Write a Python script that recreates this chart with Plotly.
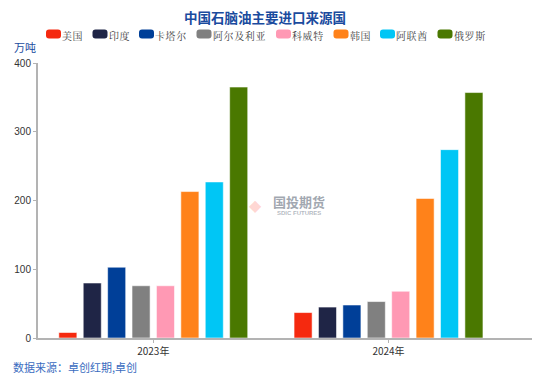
import plotly.graph_objects as go

years = ["2023年", "2024年"]
countries = ["美国", "印度", "卡塔尔", "阿尔及利亚", "科威特", "韩国", "阿联酋", "俄罗斯"]
colors = ["#f5290f", "#1f2546", "#003f98", "#808080", "#ff99b4", "#ff821a", "#00c6f5", "#4a7800"]

v_usa = [8, 37]
v_india = [80, 45]
v_qatar = [103, 48]
v_algeria = [76, 53]
v_kuwait = [76, 68]
v_korea = [213, 203]
v_uae = [227, 274]
v_russia = [365, 357]
values = [v_usa, v_india, v_qatar, v_algeria, v_kuwait, v_korea, v_uae, v_russia]

OFF = 8  # default page body margin
W, H = 550 - OFF, 382 - OFF
ML, MR, MT, MB = 38 - OFF, 18, 63 - OFF, 44
PW, PH = W - ML - MR, H - MT - MB

def px2x(px):
    return (px - OFF - ML) / PW

def py2y(py):
    return (H - MB - (py - OFF)) / PH

fig = go.Figure()
for name, col, vals in zip(countries, colors, values):
    fig.add_trace(go.Bar(
        x=years, y=vals, name=name, showlegend=False,
        marker=dict(color=col, line=dict(color="rgba(255,255,255,0.55)", width=1)),
    ))

fig.update_layout(
    width=W, height=H,
    margin=dict(l=ML, r=MR, t=MT, b=MB, autoexpand=False),
    paper_bgcolor="white", plot_bgcolor="white",
    barmode="group", bargap=0.17, bargroupgap=0.26,
    font=dict(family="Liberation Sans, Arial, sans-serif", size=10, color="#333333"),
    showlegend=False,
)

fig.add_annotation(text="<b>中国石脑油主要进口来源国</b>", xref="paper", yref="paper",
                   x=px2x(265), y=py2y(17.5), xanchor="center", yanchor="middle",
                   showarrow=False, borderpad=0,
                   font=dict(family="Noto Sans CJK SC", size=13.5, color="#1a4b9e"))

fig.update_xaxes(type="category", range=[-0.49, 1.61], showline=True, linecolor="#b3b3b3",
                 linewidth=2, ticks="outside", ticklen=3, tickcolor="#b3b3b3",
                 tickfont=dict(family="Noto Sans CJK SC", size=10, color="#333333"),
                 showgrid=False, zeroline=False)
fig.update_yaxes(range=[0, 400], dtick=100, showline=True, linecolor="#b3b3b3", linewidth=2,
                 ticks="outside", ticklen=3, tickcolor="#b3b3b3", showgrid=False,
                 zeroline=False, tickfont=dict(size=10, color="#333333"))

# custom legend with rounded swatches
leg_y = 34
sw_w, sw_h, r = 15, 9, 3
x = 46.0
for name, col in zip(countries, colors):
    x0, x1 = x, x + sw_w
    y0, y1 = leg_y - sw_h / 2, leg_y + sw_h / 2
    pts = [
        f"M {px2x(x0 + r)} {py2y(y0)}",
        f"L {px2x(x1 - r)} {py2y(y0)}",
        f"Q {px2x(x1)} {py2y(y0)} {px2x(x1)} {py2y(y0 + r)}",
        f"L {px2x(x1)} {py2y(y1 - r)}",
        f"Q {px2x(x1)} {py2y(y1)} {px2x(x1 - r)} {py2y(y1)}",
        f"L {px2x(x0 + r)} {py2y(y1)}",
        f"Q {px2x(x0)} {py2y(y1)} {px2x(x0)} {py2y(y1 - r)}",
        f"L {px2x(x0)} {py2y(y0 + r)}",
        f"Q {px2x(x0)} {py2y(y0)} {px2x(x0 + r)} {py2y(y0)}",
        "Z",
    ]
    fig.add_shape(type="path", path=" ".join(pts), xref="paper", yref="paper",
                  fillcolor=col, line=dict(width=0), layer="above")
    tx = x + 17
    fig.add_annotation(text="\u200a".join(name), xref="paper", yref="paper",
                       x=px2x(tx), y=py2y(leg_y + 1), xanchor="left", yanchor="middle",
                       showarrow=False, xshift=-2, borderpad=0,
                       font=dict(family="Noto Serif CJK SC, Noto Sans CJK SC", size=10, color="#444444"))
    x = tx + len(name) * 11 + 7.5

fig.add_annotation(text="万吨", xref="paper", yref="paper", x=px2x(25), y=py2y(47),
                   xanchor="center", yanchor="middle", showarrow=False,
                   font=dict(family="Noto Sans CJK SC", size=11, color="#1a4b9e"))
fig.add_annotation(text="数据来源：卓创红期,卓创", xref="paper", yref="paper",
                   x=px2x(11), y=py2y(367), xanchor="left", yanchor="middle", showarrow=False,
                   font=dict(family="Noto Sans CJK SC", size=11, color="#3a6cc0"))
fig.add_annotation(text="<b>国投期货</b>", xref="paper", yref="paper", x=px2x(299), y=py2y(201),
                   xanchor="center", yanchor="middle", showarrow=False,
                   font=dict(family="Noto Sans CJK SC", size=13, color="rgba(130,138,150,0.75)"))
fig.add_annotation(text="<b>SDIC FUTURES</b>", xref="paper", yref="paper", x=px2x(299), y=py2y(213),
                   xanchor="center", yanchor="middle", showarrow=False,
                   font=dict(family="Liberation Sans", size=6, color="rgba(130,138,150,0.6)"))
fig.add_annotation(text="◆", xref="paper", yref="paper", x=px2x(255), y=py2y(205),
                   xanchor="center", yanchor="middle", showarrow=False,
                   font=dict(size=16, color="rgba(255,150,140,0.4)"))

fig.write_html("out.html")
